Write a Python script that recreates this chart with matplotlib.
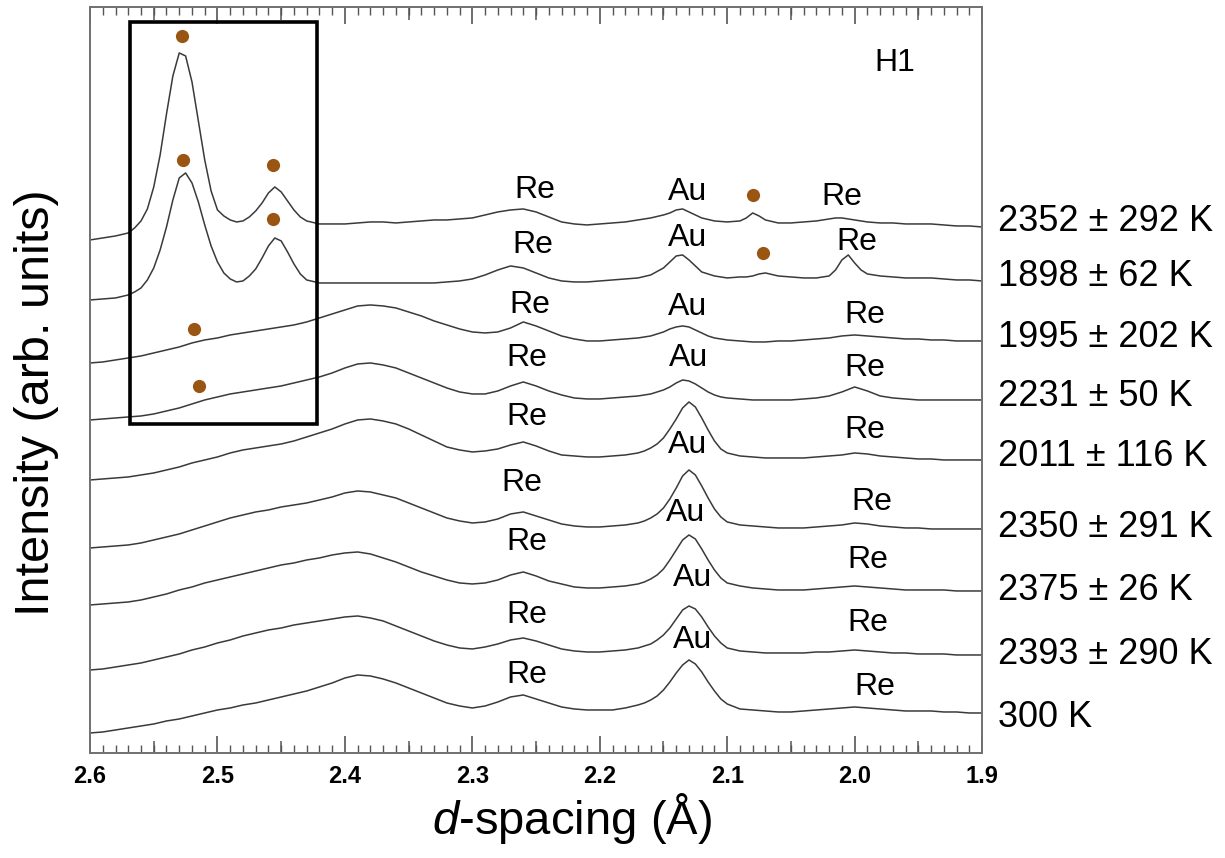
import numpy as np
import matplotlib
matplotlib.use('Agg')
import matplotlib.pyplot as plt
import matplotlib.transforms as mtransforms
from matplotlib.patches import Rectangle
from matplotlib.ticker import MultipleLocator

plt.rcParams['font.family'] = ['Liberation Sans', 'DejaVu Sans']
plt.rcParams['mathtext.fontset'] = 'custom'
plt.rcParams['mathtext.it'] = 'Liberation Sans:italic'
plt.rcParams['mathtext.rm'] = 'Liberation Sans'

# d-spacing grid for the two top patterns (Angstrom)
d_top = [2.60, 2.59, 2.58, 2.57, 2.565, 2.56, 2.555, 2.55, 2.545, 2.54,
         2.535, 2.53, 2.525, 2.52, 2.515, 2.51, 2.505, 2.50, 2.495, 2.49,
         2.485, 2.48, 2.475, 2.47, 2.465, 2.46, 2.455, 2.45, 2.445, 2.44,
         2.435, 2.43, 2.42, 2.41, 2.40, 2.39, 2.38, 2.37, 2.36, 2.35,
         2.34, 2.33, 2.32, 2.31, 2.30, 2.29, 2.28, 2.27, 2.26, 2.25,
         2.24, 2.23, 2.22, 2.21, 2.20, 2.19, 2.18, 2.17, 2.16, 2.15,
         2.145, 2.14, 2.135, 2.13, 2.125, 2.12, 2.11, 2.10, 2.09, 2.085,
         2.08, 2.075, 2.07, 2.06, 2.05, 2.04, 2.03, 2.02, 2.015, 2.01,
         2.005, 2.00, 1.995, 1.99, 1.98, 1.97, 1.96, 1.95, 1.94, 1.93,
         1.92, 1.91, 1.90]
# d-spacing grid for the other patterns
d_low = [2.60, 2.59, 2.58, 2.57, 2.56, 2.55, 2.54, 2.53, 2.52, 2.51,
         2.50, 2.49, 2.48, 2.47, 2.46, 2.45, 2.44, 2.43, 2.42, 2.41,
         2.40, 2.39, 2.38, 2.37, 2.36, 2.35, 2.34, 2.33, 2.32, 2.31,
         2.30, 2.29, 2.28, 2.27, 2.26, 2.25, 2.24, 2.23, 2.22, 2.21,
         2.20, 2.19, 2.18, 2.17, 2.165, 2.16, 2.155, 2.15, 2.145, 2.14,
         2.135, 2.13, 2.125, 2.12, 2.115, 2.11, 2.105, 2.10, 2.09, 2.08,
         2.07, 2.06, 2.05, 2.04, 2.03, 2.02, 2.01, 2.00, 1.99, 1.98,
         1.97, 1.96, 1.95, 1.94, 1.93, 1.92, 1.91, 1.90]

# stacked intensities (arb. units, vertical offsets included)
i_2352 = [520, 522, 524, 527, 532, 539, 551, 573, 605, 646,
          684, 707, 704, 678, 639, 600, 569, 550, 544, 540,
          538, 539, 543, 549, 557, 567, 573, 568, 559, 550,
          543, 539, 536, 536, 536, 537, 538, 538, 537, 538,
          539, 540, 540, 541, 542, 545, 548, 550, 551, 548,
          543, 538, 536, 535, 536, 537, 538, 540, 542, 545,
          547, 550, 551, 548, 545, 542, 539, 538, 539, 542,
          547, 544, 540, 537, 537, 538, 539, 541, 542, 542,
          541, 540, 539, 538, 537, 537, 536, 536, 536, 535,
          534, 534, 533]
i_1898 = [460, 461, 462, 465, 468, 472, 480, 492, 510, 533,
          560, 582, 587, 577, 558, 535, 514, 498, 487, 481,
          478, 479, 484, 491, 502, 514, 522, 519, 508, 496,
          486, 480, 477, 477, 477, 477, 477, 477, 477, 477,
          477, 477, 478, 479, 481, 485, 490, 494, 492, 487,
          482, 479, 478, 478, 479, 480, 481, 482, 485, 492,
          498, 504, 505, 500, 494, 488, 484, 482, 483, 483,
          484, 486, 487, 484, 483, 482, 482, 484, 490, 500,
          505, 497, 490, 486, 484, 483, 482, 482, 482, 481,
          480, 480, 479]
i_1995 = [397, 398, 400, 402, 404, 407, 410, 413, 417, 420,
          422, 425, 427, 429, 431, 433, 435, 438, 442, 446,
          450, 454, 455, 454, 452, 448, 444, 439, 435, 431,
          428, 427, 428, 432, 438, 434, 429, 424, 421, 419,
          419, 420, 421, 422, 423, 424, 426, 428, 431, 433,
          434, 433, 430, 427, 424, 422, 421, 420, 419, 418,
          418, 419, 419, 420, 421, 422, 424, 425, 424, 423,
          422, 421, 421, 420, 420, 419, 419, 419]
i_2231 = [340, 341, 342, 343, 344, 346, 349, 352, 356, 360,
          363, 366, 368, 370, 372, 374, 377, 380, 383, 387,
          392, 396, 397, 395, 392, 387, 382, 377, 372, 368,
          366, 366, 369, 374, 378, 374, 369, 365, 362, 361,
          361, 362, 363, 364, 365, 366, 368, 370, 373, 377,
          380, 379, 376, 372, 368, 365, 363, 362, 361, 360,
          360, 360, 360, 361, 362, 364, 368, 373, 369, 364,
          362, 361, 360, 360, 360, 360, 360, 360]
i_2011 = [280, 281, 282, 283, 285, 287, 290, 293, 297, 300,
          303, 307, 310, 312, 314, 316, 319, 323, 327, 331,
          336, 340, 341, 339, 336, 331, 325, 319, 313, 310,
          308, 309, 311, 315, 318, 314, 309, 305, 304, 303,
          303, 304, 305, 307, 309, 312, 316, 322, 331, 341,
          352, 358, 353, 342, 330, 319, 311, 307, 304, 303,
          302, 302, 302, 302, 303, 304, 305, 307, 306, 304,
          303, 302, 301, 301, 300, 300, 300, 300]
i_2350 = [212, 213, 214, 215, 217, 220, 223, 226, 230, 234,
          238, 242, 245, 248, 250, 253, 255, 257, 260, 263,
          267, 269, 268, 265, 262, 257, 252, 247, 242, 239,
          237, 238, 241, 246, 248, 244, 240, 236, 234, 233,
          233, 234, 235, 237, 239, 242, 246, 252, 261, 272,
          284, 290, 285, 274, 262, 251, 243, 238, 235, 234,
          233, 232, 232, 232, 233, 234, 235, 237, 236, 234,
          233, 232, 232, 231, 231, 231, 231, 231]
i_2375 = [155, 156, 157, 158, 160, 163, 166, 170, 173, 177,
          180, 183, 186, 189, 192, 195, 197, 200, 202, 205,
          207, 208, 206, 202, 198, 193, 188, 184, 180, 177,
          176, 177, 180, 185, 188, 184, 179, 176, 173, 172,
          172, 173, 174, 176, 178, 181, 185, 191, 200, 210,
          220, 225, 221, 211, 200, 190, 182, 177, 174, 172,
          171, 170, 170, 170, 171, 172, 173, 174, 173, 172,
          171, 170, 170, 170, 170, 169, 169, 169]
i_2393 = [90, 91, 93, 95, 97, 100, 103, 106, 110, 113,
          117, 120, 124, 127, 130, 132, 135, 137, 139, 141,
          143, 144, 142, 139, 134, 129, 124, 119, 115, 112,
          111, 113, 116, 120, 122, 119, 115, 111, 109, 108,
          108, 109, 110, 112, 114, 116, 120, 125, 132, 141,
          150, 154, 151, 143, 133, 124, 117, 112, 109, 108,
          107, 107, 107, 107, 108, 108, 109, 110, 109, 108,
          107, 107, 106, 106, 106, 105, 105, 105]
i_300 = [27, 28, 30, 32, 34, 36, 39, 41, 44, 47,
         50, 52, 55, 57, 60, 63, 66, 69, 73, 77,
         82, 85, 84, 81, 77, 72, 67, 62, 57, 54,
         52, 54, 58, 63, 65, 61, 57, 53, 51, 50,
         50, 50, 52, 55, 57, 60, 64, 70, 78, 87,
         95, 100, 96, 88, 78, 69, 61, 56, 51, 50,
         49, 48, 48, 49, 50, 51, 52, 53, 52, 51,
         50, 49, 49, 49, 48, 48, 47, 47]

temp_labels = ['2352 ± 292 K', '1898 ± 62 K', '1995 ± 202 K', '2231 ± 50 K',
               '2011 ± 116 K', '2350 ± 291 K', '2375 ± 26 K', '2393 ± 290 K',
               '300 K']
temp_label_y = [538, 483, 422, 363, 303, 232, 169, 105, 42]

re_mid = [(2.2507, 570), (2.2523, 515), (2.2546, 455), (2.2570, 402),
          (2.2570, 343), (2.2609, 277), (2.2570, 218), (2.2570, 145),
          (2.2570, 85)]
au_lab = [(2.1314, 568), (2.1314, 522), (2.1314, 453), (2.1306, 402),
          (2.1314, 315), (2.1330, 247), (2.1275, 182), (2.1275, 120)]
re_right = [(2.0097, 563), (1.9980, 518), (1.9917, 445), (1.9917, 392),
            (1.9917, 330), (1.9862, 258), (1.9893, 200), (1.9893, 137),
            (1.9838, 73)]
dots_d = [2.5278, 2.527, 2.4564, 2.4564, 2.5184, 2.5144, 2.0796, 2.0717]
dots_i = [724, 600, 595, 541, 431, 374, 565, 507]

fig = plt.figure(figsize=(12.25, 8.58), dpi=100)
ax = fig.add_axes([0.0735, 0.1224, 0.7282, 0.8695])

curve_col = '#3a3a3a'
ax.plot(d_top, i_2352, color=curve_col, lw=1.1)
ax.plot(d_top, i_1898, color=curve_col, lw=1.1)
for ys in (i_1995, i_2231, i_2011, i_2350, i_2375, i_2393, i_300):
    ax.plot(d_low, ys, color=curve_col, lw=1.1)

ax.plot(dots_d, dots_i, 'o', color='#9b5512', ms=9.5, mec='none')

ax.add_patch(Rectangle((2.4218, 336), 0.1468, 402, fill=False,
                       edgecolor='black', lw=2.6, zorder=3))

fs = 23
for d, y in re_mid:
    ax.text(d, y, 'Re', fontsize=fs, ha='center', va='center')
for d, y in au_lab:
    ax.text(d, y, 'Au', fontsize=fs, ha='center', va='center')
for d, y in re_right:
    ax.text(d, y, 'Re', fontsize=fs, ha='center', va='center')
ax.text(1.9681, 697, 'H1', fontsize=fs, ha='center', va='center')

trans = mtransforms.blended_transform_factory(ax.transAxes, ax.transData)
for lab, y in zip(temp_labels, temp_label_y):
    ax.text(1.018, y, lab, transform=trans, fontsize=26, ha='left',
            va='center', clip_on=False)

ax.set_xlim(2.6, 1.9)
ax.set_ylim(7, 753)
ax.set_yticks([])
ax.set_xticks([2.6, 2.5, 2.4, 2.3, 2.2, 2.1, 2.0, 1.9])
ax.set_xticklabels(['2.6', '2.5', '2.4', '2.3', '2.2', '2.1', '2.0', '1.9'],
                   fontweight='bold')
ax.xaxis.set_minor_locator(MultipleLocator(0.01))
ax.tick_params(axis='x', which='both', direction='in', top=True, bottom=True,
               color='#555555')
ax.tick_params(axis='x', which='major', length=12, width=1.2, labelsize=17,
               pad=9)
ax.tick_params(axis='x', which='minor', length=6, width=1.0)

for side in ('bottom', 'top'):
    sec = ax.secondary_xaxis(side)
    sec.set_xticks([2.55, 2.45, 2.35, 2.25, 2.15, 2.05, 1.95])
    sec.set_xticklabels([])
    sec.tick_params(direction='in', length=9, width=1.1, color='#555555')
    sec.spines[side].set_visible(False)

for sp in ax.spines.values():
    sp.set_color('#707070')
    sp.set_linewidth(1.4)

fig.text(572 / 1225, 1 - 818 / 858, r'$d$-spacing (Å)', fontsize=34,
         ha='center', va='center')
fig.text(37 / 1225, 1 - 403 / 858, 'Intensity (arb. units)', fontsize=35,
         ha='center', va='center', rotation=90)

fig.savefig('out.png', dpi=100)
